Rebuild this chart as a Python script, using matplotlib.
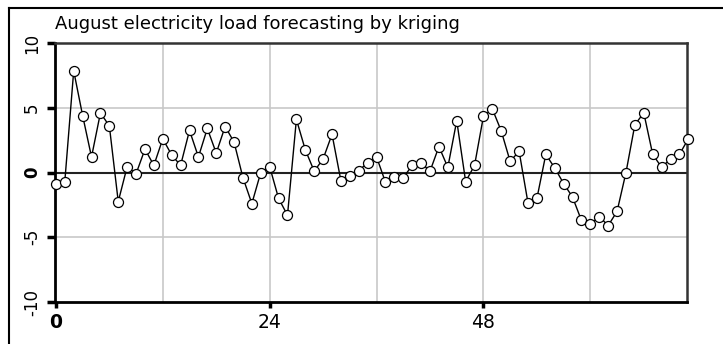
import matplotlib
matplotlib.use("Agg")
import matplotlib.pyplot as plt
from matplotlib.lines import Line2D

title = "August electricity load forecasting by kriging"
hours = list(range(72))
errors = [-0.85, -0.7, 7.85, 4.4, 1.2, 4.6, 3.6, -2.25, 0.45, -0.1,
          1.8, 0.55, 2.6, 1.35, 0.55, 3.25, 1.2, 3.4, 1.5, 3.55,
          2.35, -0.4, -2.4, 0.0, 0.45, -2.0, -3.3, 4.1, 1.75, 0.1,
          1.05, 2.95, -0.65, -0.3, 0.15, 0.75, 1.2, -0.75, -0.35, -0.4,
          0.55, 0.75, 0.1, 2.0, 0.4, 4.0, -0.7, 0.55, 4.35, 4.9,
          3.2, 0.85, 1.65, -2.35, -2.0, 1.4, 0.35, -0.85, -1.9, -3.7,
          -4.0, -3.4, -4.1, -3.0, 0.0, 3.7, 4.6, 1.4, 0.4, 1.05,
          1.4, 2.6]
xticks = [0, 24, 48]
xgrid = [12, 24, 36, 48, 60]
yticks = [-10, -5, 0, 5, 10]

W, H = 723, 344
fig = plt.figure(figsize=(W / 100, H / 100), dpi=100)
fig.patch.set_facecolor("white")

# partial outer frame (top and left edges)
fig.add_artist(Line2D([9 / W, 1.0], [1 - 8 / H, 1 - 8 / H],
                      transform=fig.transFigure, color="black", linewidth=1.5))
fig.add_artist(Line2D([9 / W, 9 / W], [0.0, 1 - 8 / H],
                      transform=fig.transFigure, color="black", linewidth=1.5))

ax = fig.add_axes([55 / W, (344 - 302) / H, (687 - 55) / W, (302 - 43) / H])
ax.set_xlim(-0.1, 70.85)
ax.set_ylim(-10, 10)

for g in xgrid:
    ax.axvline(g, color="#c8c8c8", linewidth=1.2, zorder=0)
for g in [-5, 5]:
    ax.axhline(g, color="#c8c8c8", linewidth=1.2, zorder=0)
ax.axhline(0, color="#222222", linewidth=1.5, zorder=1)

ax.plot(hours, errors, color="black", linewidth=1.0, marker="o",
        markersize=7.2, markerfacecolor="white", markeredgecolor="black",
        markeredgewidth=0.9, clip_on=False, zorder=3)

ax.set_xticks(xticks)
ax.set_xticklabels([str(t) for t in xticks], fontsize=13.5,
                   family="DejaVu Sans")
ax.set_yticks(yticks)
ax.set_yticklabels([str(t) for t in yticks], fontsize=12, rotation=90,
                   va="center", family="Liberation Sans Narrow")
for lab in ax.get_xticklabels() + ax.get_yticklabels():
    if lab.get_text() == "0":
        lab.set_fontweight("bold")
ax.tick_params(axis="x", length=4, width=2.5, direction="out", pad=4)
ax.tick_params(axis="y", length=6, width=2.5, direction="out", pad=4)

for side in ["left", "bottom"]:
    ax.spines[side].set_linewidth(2.0)
    ax.spines[side].set_color("black")
for side in ["top", "right"]:
    ax.spines[side].set_linewidth(1.8)
    ax.spines[side].set_color("#333333")

fig.text(55 / W, 1 - 24 / H, title, fontsize=13,
         family="Liberation Sans Narrow", ha="left", va="center")

fig.savefig("out.png", dpi=100, facecolor="white")
